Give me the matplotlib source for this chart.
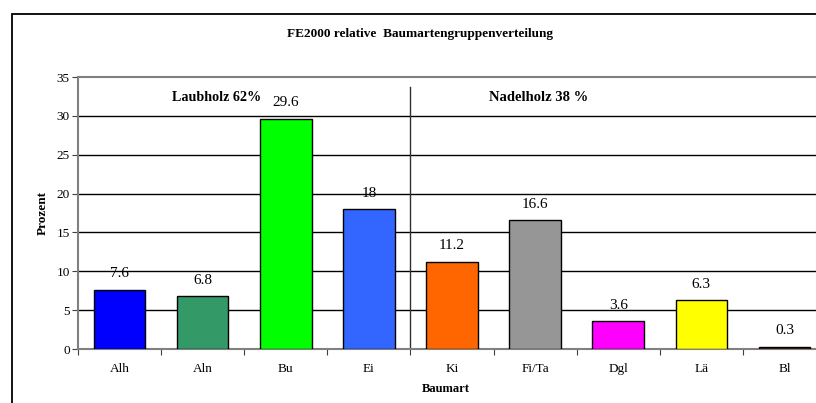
import matplotlib
matplotlib.use('Agg')
import matplotlib.pyplot as plt
from matplotlib.patches import Rectangle

# data
categories = ['Alh', 'Aln', 'Bu', 'Ei', 'Ki', 'Fi/Ta', 'Dgl', 'Lä', 'Bl']
values = [7.6, 6.8, 29.6, 18, 11.2, 16.6, 3.6, 6.3, 0.3]
value_labels = ['7.6', '6.8', '29.6', '18', '11.2', '16.6', '3.6', '6.3', '0.3']
bar_colors = ['#0000FF', '#339966', '#00FF00', '#3366FF', '#FF6600',
              '#969696', '#FF00FF', '#FFFF00', '#5a2a10']
group_labels = ['Laubholz 62%', 'Nadelholz 38 %']
yticks = [0, 5, 10, 15, 20, 25, 30, 35]

plt.rcParams['font.family'] = ['Liberation Serif', 'DejaVu Serif']

W, H = 816, 403
fig = plt.figure(figsize=(W / 100, H / 100), dpi=100)

# outer chart frame (runs off right and bottom edges)
fig.patches.append(Rectangle((12 / W, -0.1), 1.2, (H - 14) / H + 0.1,
                             transform=fig.transFigure, fill=False,
                             edgecolor='black', linewidth=1.3))

left, right = 78 / W, 826 / W
bottom, top = (H - 349) / H, (H - 77) / H
ax = fig.add_axes([left, bottom, right - left, top - bottom])

x = list(range(len(categories)))
ax.bar(x, values, width=0.62, color=bar_colors, edgecolor='black',
       linewidth=1.0, zorder=3)

for xi, v, lbl in zip(x, values, value_labels):
    ax.annotate(lbl, (xi, v), xytext=(0, 11.5), textcoords='offset points',
                ha='center', va='center', fontsize=11, zorder=4)

ax.set_xlim(-0.5, len(categories) - 0.5)
ax.set_ylim(0, 35)
ax.set_yticks(yticks)
ax.set_xticks([i - 0.5 for i in range(len(categories) + 1)])
ax.set_xticklabels([])
ax.set_xticks(x, minor=True)
ax.set_xticklabels(categories, minor=True, fontsize=9.5)
ax.tick_params(axis='x', which='minor', length=0, pad=10)
ax.tick_params(axis='x', which='major', direction='out', length=4,
               color='#404040')
ax.tick_params(axis='y', direction='out', length=4, labelsize=9.5,
               color='#404040', pad=2)

for y in yticks[1:-1]:
    ax.axhline(y, color='black', linewidth=1.0, zorder=1)

for side in ['top', 'left', 'bottom']:
    ax.spines[side].set_color('#808080')
    ax.spines[side].set_linewidth(1.5)
ax.spines['right'].set_visible(False)

# separator between broadleaf and conifer groups
ax.plot([3.5, 3.5], [0, 33.7], color='#303030', linewidth=1.0, zorder=2)
ax.text(1.17, 32.3, group_labels[0], ha='center', va='center',
        fontsize=10.2, fontweight='bold')
ax.text(5.04, 32.3, group_labels[1], ha='center', va='center',
        fontsize=10.5, fontweight='bold')

ax.set_ylabel('Prozent', fontsize=9.5, fontweight='bold')
ax.yaxis.set_label_coords((49 - 78) / (826 - 78), 0.5)
ax.set_xlabel('Baumart', fontsize=9, fontweight='bold', va='center')
ax.xaxis.set_label_coords((446 - 78) / (826 - 78), -(389 - 349) / (349 - 77))

fig.text(420 / W, 1 - 34 / H, 'FE2000 relative  Baumartengruppenverteilung',
         ha='center', va='center', fontsize=9.5, fontweight='bold')

fig.savefig('out.png', dpi=100)
